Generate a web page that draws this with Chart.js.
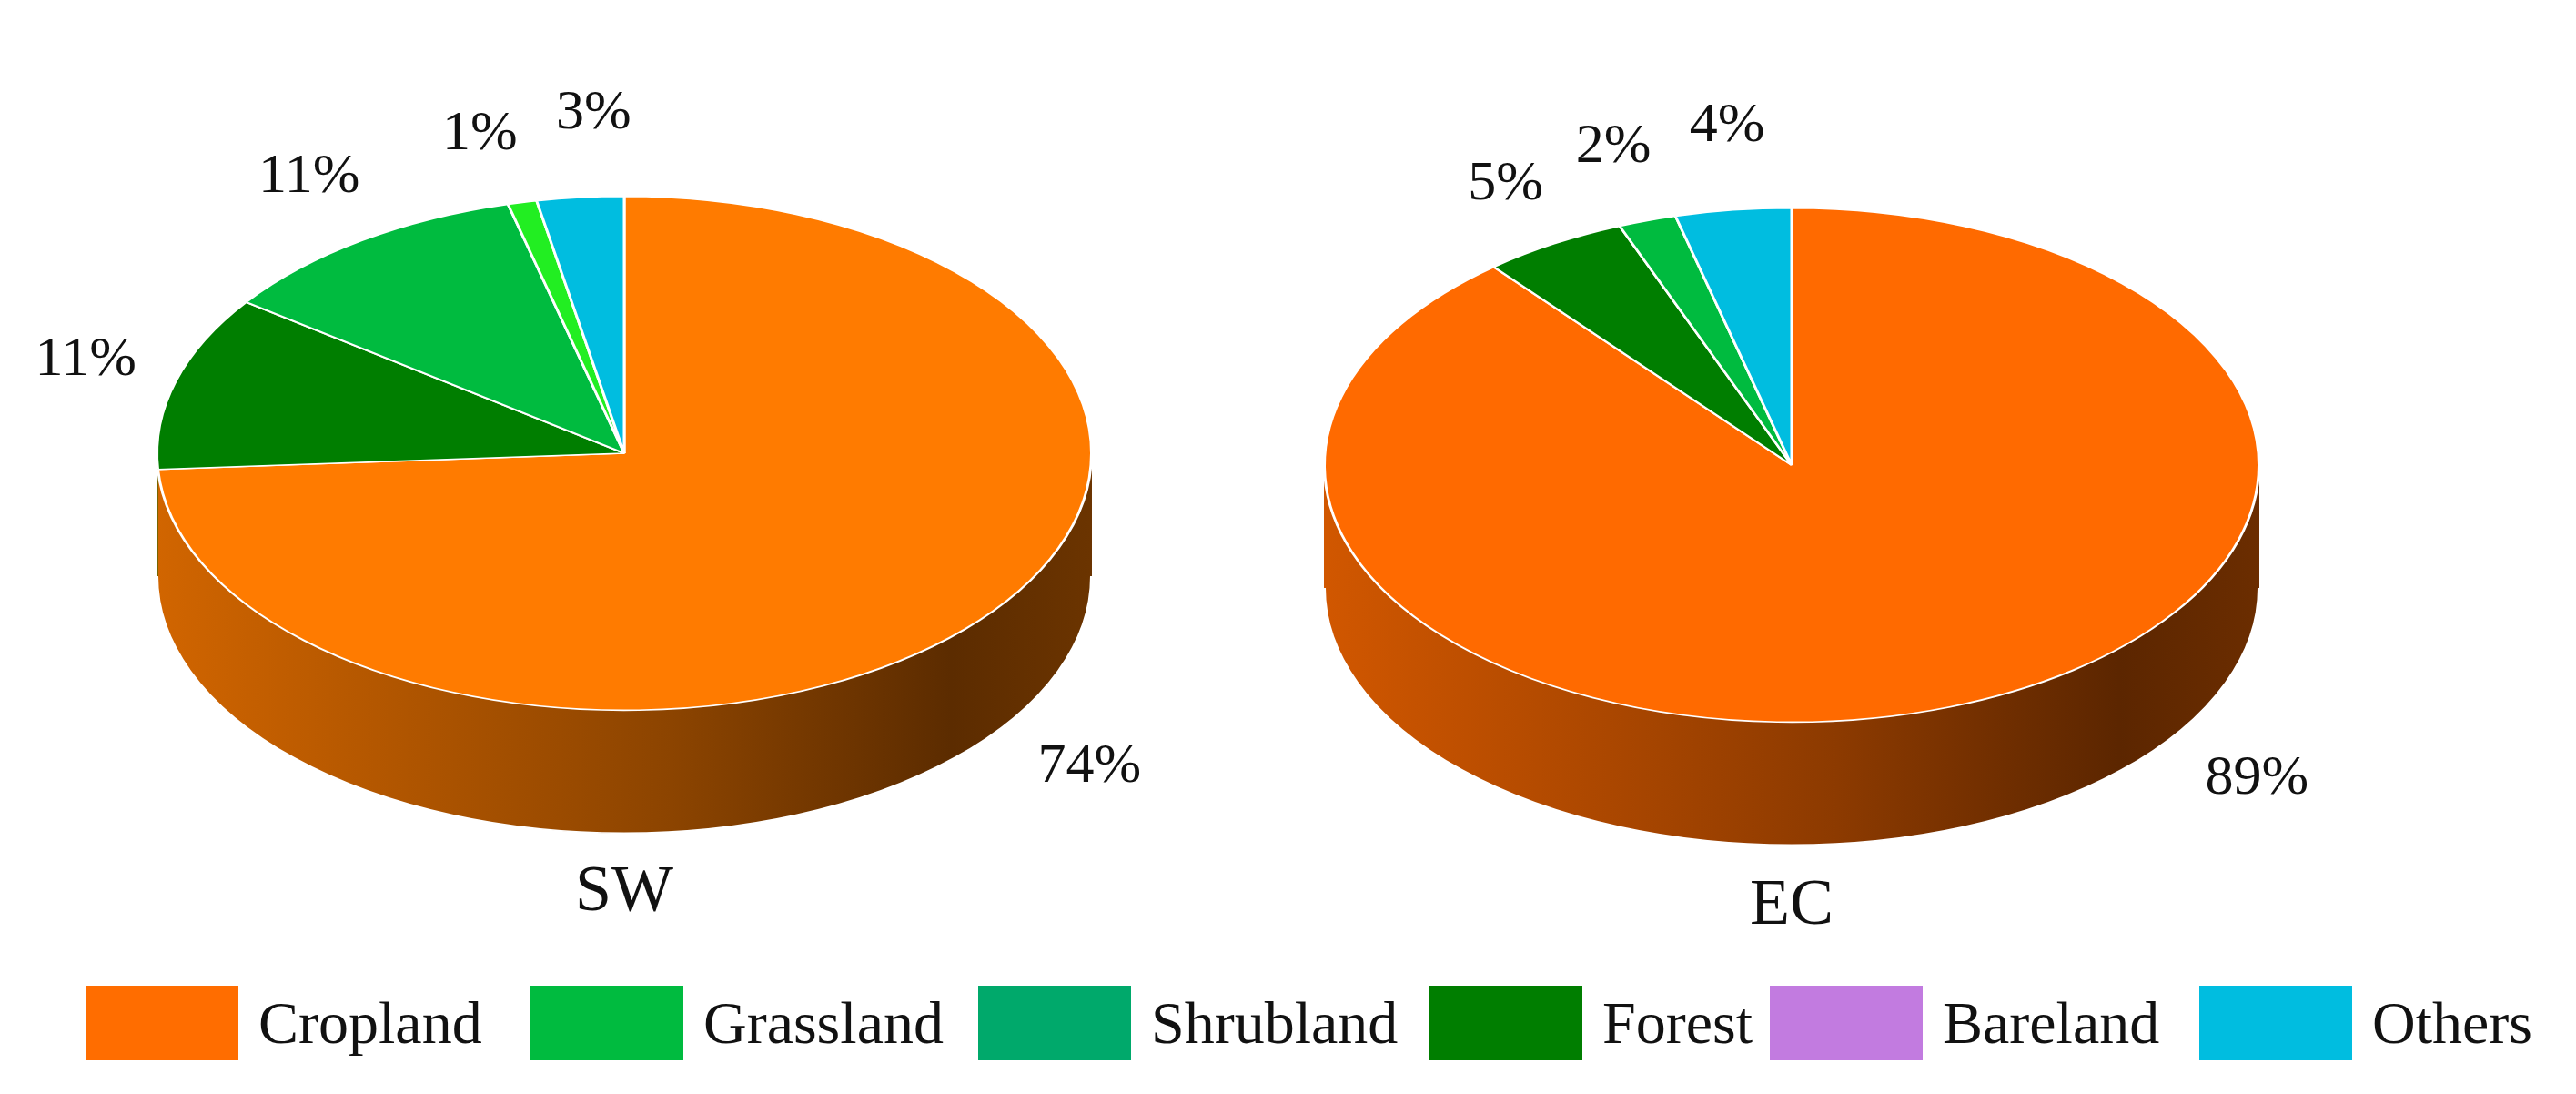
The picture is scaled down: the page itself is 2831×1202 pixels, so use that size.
<!DOCTYPE html>
<html><head><meta charset="utf-8">
<script src="https://cdn.jsdelivr.net/npm/chart.js@4"></script>
<style>
body{margin:0;width:2831px;height:1202px;background:#fff;position:relative;overflow:hidden;font-family:"Liberation Serif","DejaVu Serif",serif;}
canvas{position:absolute;}
.t{position:absolute;font-size:72px;color:#111;transform:translateX(-50%);}
.lg{position:absolute;top:1083px;display:flex;align-items:center;font-size:66px;color:#111;}
.lg span.b{display:inline-block;width:168px;height:82px;margin-right:22px;}
</style></head><body>
<canvas id="sw" width="1400" height="1030" style="left:-14px;top:-17px"></canvas>
<canvas id="ec" width="1400" height="1030" style="left:1269px;top:-4px"></canvas>
<div class="t" style="left:686px;top:935px">SW</div>
<div class="t" style="left:1969px;top:950px">EC</div>
<div id="legend"></div>
<script>
// Drawing order (clockwise from top)
const categories = ["Cropland","Forest","Grassland","Shrubland","Bareland","Others"];
const swValues = [74, 11, 11, 1, 0, 3];
const ecValues = [89, 5, 2, 0, 0, 4];
const swColors = ["#ff7b00","#007e00","#00bb3f","#22ee22","#c27be0","#00bde0"];
const ecColors = ["#ff6a00","#007e00","#00bb3f","#00a96b","#c27be0","#00bde0"];
const legendLabels = ["Cropland","Grassland","Shrubland","Forest","Bareland","Others"];
const legendColors = ["#ff6d00","#00bb3f","#00a96b","#007e00","#c27be0","#00bde0"];
const legendLeft = [94,583,1075,1571,1945,2417];

const SQ = 0.55, DEPTH = 135;
function shade(hex, f){
  const n=parseInt(hex.slice(1),16);
  const r=(n>>16)&255,g=(n>>8)&255,b=n&255;
  return `rgb(${Math.round(r*f)},${Math.round(g*f)},${Math.round(b*f)})`;
}
const tilt = {
  id:'tilt',
  beforeDatasetsDraw(chart){
    const ctx=chart.ctx, meta=chart.getDatasetMeta(0);
    const colors=chart.data.datasets[0].backgroundColor;
    const el0=meta.data[0]; const cx=el0.x, cy=el0.y, R=el0.outerRadius;
    ctx.save();
    ctx.translate(0,cy); ctx.scale(1,SQ); ctx.translate(0,-cy);
    for(let d=DEPTH; d>0; d-=1){
      meta.data.forEach((el,i)=>{
        const p=el.getProps(['startAngle','endAngle','outerRadius']);
        if(p.endAngle-p.startAngle<=0) return;
        const g=ctx.createLinearGradient(cx-R,0,cx+R,0);
        g.addColorStop(0,shade(colors[i],0.82));
        g.addColorStop(0.55,shade(colors[i],0.55));
        g.addColorStop(0.85,shade(colors[i],0.36));
        g.addColorStop(1,shade(colors[i],0.42));
        ctx.beginPath();
        ctx.moveTo(cx,cy+d/SQ);
        ctx.arc(cx,cy+d/SQ,p.outerRadius,p.startAngle,p.endAngle);
        ctx.closePath();
        ctx.fillStyle=g; ctx.fill();
      });
    }
    ctx.beginPath(); ctx.arc(cx,cy+DEPTH/SQ,R,0,Math.PI);
    ctx.strokeStyle='#fff'; ctx.lineWidth=3; ctx.stroke();
  },
  afterDatasetsDraw(chart){
    chart.ctx.restore();
    const ctx=chart.ctx, meta=chart.getDatasetMeta(0);
    const vals=chart.data.datasets[0].data;
    const total=vals.reduce((a,b)=>a+b,0);
    const pos=[];
    meta.data.forEach((el,i)=>{
      if(!vals[i]) return;
      const p=el.getProps(['x','y','startAngle','endAngle','outerRadius']);
      let mid=(p.startAngle+p.endAngle)/2;
      if(vals[i]/total>0.5) mid=Math.min(mid,40*Math.PI/180);
      const s=Math.sin(mid), c=Math.cos(mid);
      const kx = s>0 ? 1.3 : 1.2, ky = s>0 ? 1.45 : 1.3;
      pos.push({t:Math.round(vals[i])+'%',
        x:p.x+c*p.outerRadius*kx,
        y:p.y+s*p.outerRadius*SQ*ky+(s>0?DEPTH*0.6:0)});
    });
    for(let k=1;k<pos.length;k++){
      const a=pos[k-1], b=pos[k];
      const dx=b.x-a.x;
      if(Math.abs(dx)<125 && Math.abs(b.y-a.y)<60){
        const push=(125-Math.abs(dx))/2;
        a.x-=push; b.x+=push; a.y+=8; b.y-=8;
      }
    }
    ctx.save();
    ctx.font='62px "Liberation Serif", serif';
    ctx.fillStyle='#111'; ctx.textAlign='center'; ctx.textBaseline='middle';
    pos.forEach(q=>ctx.fillText(q.t,q.x,q.y));
    ctx.restore();
  }
};
function make(id, values, colors){
  new Chart(document.getElementById(id),{
    type:'pie',
    data:{labels:categories,datasets:[{data:values,backgroundColor:colors,borderColor:'#fff',borderWidth:3}]},
    options:{responsive:false,animation:false,devicePixelRatio:1,
      layout:{padding:0},
      plugins:{legend:{display:false},tooltip:{enabled:false}}},
    plugins:[tilt]
  });
}
make('sw',swValues,swColors);
make('ec',ecValues,ecColors);
const lg=document.getElementById('legend');
legendLabels.forEach((l,i)=>{
  const d=document.createElement('div'); d.className='lg'; d.style.left=legendLeft[i]+'px';
  d.innerHTML=`<span class="b" style="background:${legendColors[i]}"></span>${l}`;
  lg.appendChild(d);
});
</script></body></html>
